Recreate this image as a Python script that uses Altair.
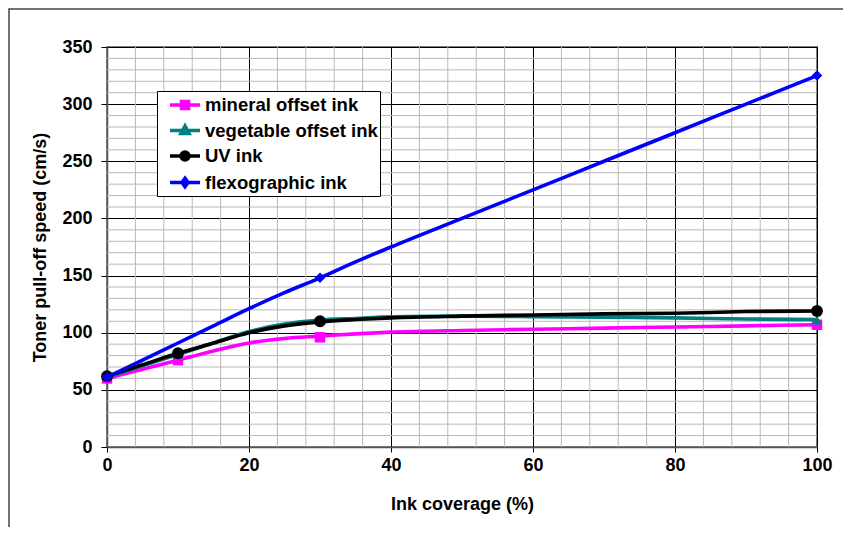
import altair as alt
import pandas as pd

series = ["mineral offset ink", "vegetable offset ink", "UV ink", "flexographic ink"]
colors = ["#ff00ff", "#008080", "#000000", "#0000ff"]
plot_shapes = ["square", "triangle-up", "circle", "diamond"]
marker_sizes = [110, 100, 140, 110]

# dense points
x_line = [0, 5, 10, 15, 20, 25, 30, 35, 40, 50, 60, 70, 80, 90, 100]
mineral = [60, 68, 76, 84, 91, 95, 97, 99, 100.5, 102, 103, 104, 105, 106, 107]
vegetable = [61, 71, 81, 91, 101, 107.5, 111, 112.5, 114, 114.5, 114, 113.5, 113, 112, 111.5]
uv = [62, 72, 82, 91, 100, 106, 109.5, 111.5, 113, 114.5, 115.5, 116.5, 117, 118.5, 119]
flexo = [61, 76, 91, 106, 121, 135, 148, 162, 175, 200, 225, 250, 275, 300, 325]

# marker points
mineral_mx = [0, 10, 30, 100]
mineral_m = [60, 76, 96, 107]
vegetable_mx = [0, 10, 30, 100]
vegetable_m = [61, 81, 111, 111]
uv_mx = [0, 10, 30, 100]
uv_m = [62, 82, 110, 119]
flexo_mx = [0, 30, 100]
flexo_m = [61, 148, 325]

x_major = [0, 20, 40, 60, 80, 100]
y_major = [0, 50, 100, 150, 200, 250, 300, 350]
x_minor = [4, 8, 12, 16, 24, 28, 32, 36, 44, 48, 52, 56, 64, 68, 72, 76, 84, 88, 92, 96]
y_minor = [10, 20, 30, 40, 60, 70, 80, 90, 110, 120, 130, 140, 160, 170, 180, 190,
           210, 220, 230, 240, 260, 270, 280, 290, 310, 320, 330, 340]

legend_paths = [
    "M-1.5,0L1.5,0M-0.35,-0.35L0.35,-0.35L0.35,0.35L-0.35,0.35Z",
    "M-1.5,0L1.5,0M0,-0.45L0.4,0.3L-0.4,0.3Z",
    "M-1.5,0L1.5,0M-0.4,0A0.4,0.4 0 1,0 0.4,0A0.4,0.4 0 1,0 -0.4,0Z",
    "M-1.5,0L1.5,0M0,-0.42L0.3,0L0,0.42L-0.3,0Z",
]

line_vals = [mineral, vegetable, uv, flexo]
mark_xs = [mineral_mx, vegetable_mx, uv_mx, flexo_mx]
mark_vals = [mineral_m, vegetable_m, uv_m, flexo_m]
line_df = pd.DataFrame([
    {"x": x, "y": v, "series": s}
    for s, vals in zip(series, line_vals) for x, v in zip(x_line, vals)
])
mark_df = pd.DataFrame([
    {"x": x, "y": v, "series": s}
    for s, xv, vals in zip(series, mark_xs, mark_vals) for x, v in zip(xv, vals)
])
xminor_df = pd.DataFrame({"x": x_minor})
yminor_df = pd.DataFrame({"y": y_minor})

FONT = "Liberation Sans"
xs = alt.Scale(domain=[0, 100], nice=False, zero=False)
ys = alt.Scale(domain=[0, 350], nice=False)
x_axis = alt.Axis(values=x_major, title="Ink coverage (%)", tickSize=5, labelPadding=4,
                  titlePadding=21, grid=True, labelFlush=False)
y_axis = alt.Axis(values=y_major, title="Toner pull-off speed (cm/s)", tickSize=6,
                  labelPadding=9, titlePadding=12, grid=True, labelFlush=False)
X = alt.X("x:Q", scale=xs, axis=x_axis)
Y = alt.Y("y:Q", scale=ys, axis=y_axis)

layers = []
layers.append(alt.Chart(xminor_df).mark_rule(color="#b8b8b8", strokeWidth=1).encode(x=X))
layers.append(alt.Chart(yminor_df).mark_rule(color="#b8b8b8", strokeWidth=1).encode(y=Y))

for s, c, shp, sz in zip(series, colors, plot_shapes, marker_sizes):
    layers.append(
        alt.Chart(line_df).transform_filter(alt.datum.series == s)
        .mark_line(color=c, strokeWidth=3.6, interpolate="monotone")
        .encode(x=X, y=Y)
    )
    layers.append(
        alt.Chart(mark_df).transform_filter(alt.datum.series == s)
        .mark_point(color=c, filled=True, shape=shp, size=sz, opacity=1)
        .encode(x=X, y=Y)
    )

legend = alt.Legend(
    title=None, orient="none", legendX=50, legendY=44, padding=2,
    symbolSize=400, symbolOffset=14, labelOffset=8, rowPadding=2.5,
    strokeColor="#000000", fillColor="#ffffff",
    labelFont=FONT, labelFontSize=18.5, labelFontWeight="bold", labelColor="#000000",
    symbolStrokeWidth=3.6, labelLimit=400,
)
layers.append(
    alt.Chart(line_df).transform_filter("false")
    .mark_point(filled=False, size=400, opacity=1, strokeWidth=3.6)
    .encode(
        color=alt.Color("series:N", scale=alt.Scale(domain=series, range=colors), legend=legend),
        fill=alt.Fill("series:N", scale=alt.Scale(domain=series, range=colors), legend=legend),
        shape=alt.Shape("series:N", scale=alt.Scale(domain=series, range=legend_paths), legend=legend),
    )
)

# outer chart frame
layers.append(
    alt.Chart(alt.Data(values=[{}])).mark_rect(fillOpacity=0, stroke="#444444", strokeWidth=1.5)
    .encode(x=alt.value(-98), x2=alt.value(780), y=alt.value(-38), y2=alt.value(520))
)

chart = alt.layer(*layers).properties(
    width=710, height=400,
    background="#ffffff",
    autosize=alt.AutoSizeParams(type="none"),
    padding={"left": 99, "top": 39, "right": 26, "bottom": 80},
).configure_view(
    stroke="#808080", strokeWidth=2
).configure_axis(
    labelFont=FONT, labelFontSize=18, labelFontWeight="bold", labelColor="#000000",
    titleFont=FONT, titleFontSize=18, titleFontWeight="bold", titleColor="#000000",
    tickColor="#000000", domainColor="#555555", domainWidth=1.5,
    gridColor="#000000", gridOpacity=1, gridWidth=1,
)

chart.save("out.html", embed_options={"renderer": "svg", "actions": False})
